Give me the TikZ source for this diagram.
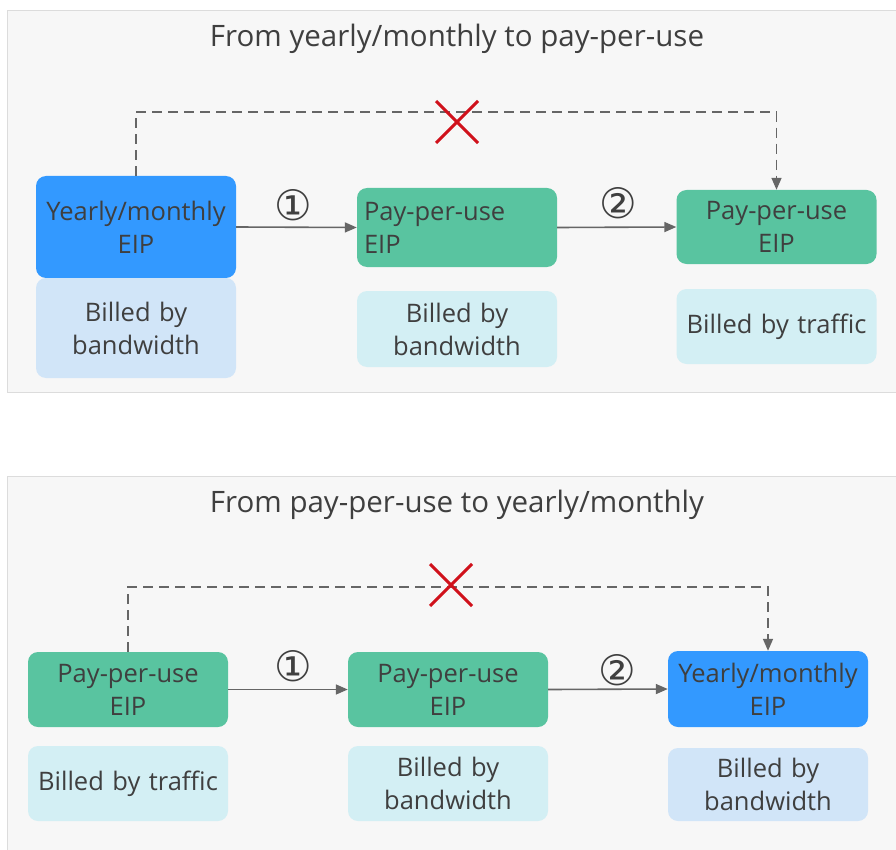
\documentclass[tikz,border=0pt]{standalone}
\usepackage{fontspec}
\setmainfont{Open Sans}
\newfontfamily\circfont{DejaVu Sans}
\usetikzlibrary{arrows.meta}
\definecolor{panelbg}{HTML}{F7F7F7}
\definecolor{panelrule}{HTML}{DCDCDC}
\definecolor{yearblue}{HTML}{3399FF}
\definecolor{payblue}{HTML}{59C4A0}
\definecolor{billblue}{HTML}{D1E5F8}
\definecolor{billcyan}{HTML}{D3EFF4}
\definecolor{inkgray}{HTML}{3F3F3F}
\definecolor{linegray}{HTML}{666666}
\definecolor{crossred}{HTML}{D0111B}
\tikzset{
  panel/.style={fill=panelbg, draw=panelrule, line width=1pt},
  box/.style={rectangle, rounded corners=10pt, minimum width=200pt, text width=186pt,
    inner sep=7pt, align=center, text=inkgray, font=\fontsize{25.5}{33}\selectfont},
  yearbox/.style={box, fill=yearblue},
  paybox/.style={box, fill=payblue},
  billbw/.style={box, fill=billblue},
  billtr/.style={box, fill=billcyan},
  title/.style={text=inkgray, font=\fontsize{29.5}{34}\selectfont},
  steplabel/.style={text=inkgray, font=\circfont\fontsize{42}{44}\selectfont},
  flow/.style={draw=linegray, line width=1.6pt, -{Triangle[length=12pt,width=10pt]}},
  skip/.style={draw=linegray, line width=1.6pt, dash pattern=on 10pt off 6pt,
    -{Triangle[length=12pt,width=10pt]}},
  cross/.style={draw=crossred, line width=3pt}
}
\begin{document}
\begin{tikzpicture}[x=1pt, y=-1pt]
\useasboundingbox (0,0) rectangle (896,850);

% ---- upper panel: yearly/monthly -> pay-per-use
\draw[panel] (7,11) rectangle (900,392);
\node[title] (t1) at (457,39) {From yearly/monthly to pay-per-use};
\node[yearbox, minimum height=102pt] (a1) at (136,227) {Yearly/monthly\\EIP};
\node[billbw, minimum height=100pt] (a1b) at (136,328) {Billed by\\bandwidth};
\node[paybox, minimum height=79pt, align=left] (b1) at (457,227.5) {Pay-per-use\\EIP};
\node[billtr, minimum height=76pt] (b1b) at (457,329) {Billed by\\bandwidth};
\node[paybox, minimum height=74pt] (c1) at (776.5,227) {Pay-per-use\\EIP};
\node[billtr, minimum height=75pt] (c1b) at (776.5,326.5) {Billed by traffic};
\draw[flow] (a1.east) -- (b1.west);
\draw[flow] (b1.east) -- (c1.west);
\node[steplabel] (s11) at (293,205) {①};
\node[steplabel] (s12) at (618,203) {②};
\coordinate (j1) at (457,112);
\draw[skip] (a1.north) |- (j1) -| (c1.north);
\draw[cross] (436,101) -- (478,143) (436,143) -- (478,101);

% ---- lower panel: pay-per-use -> yearly/monthly
\draw[panel] (7,476) rectangle (900,860);
\node[title] (t2) at (457,505) {From pay-per-use to yearly/monthly};
\node[paybox, minimum height=75pt] (a2) at (128,689.5) {Pay-per-use\\EIP};
\node[billtr, minimum height=75pt] (a2b) at (128,783.5) {Billed by traffic};
\node[paybox, minimum height=75pt] (b2) at (448,689.5) {Pay-per-use\\EIP};
\node[billtr, minimum height=75pt] (b2b) at (448,783.5) {Billed by\\bandwidth};
\node[yearbox, minimum height=76pt] (c2) at (768,689) {Yearly/monthly\\EIP};
\node[billbw, minimum height=73pt] (c2b) at (768,784.5) {Billed by\\bandwidth};
\draw[flow] (a2.east) -- (b2.west);
\draw[flow] (b2.east) -- (c2.west);
\node[steplabel] (s21) at (293,666) {①};
\node[steplabel] (s22) at (617,670) {②};
\coordinate (j2) at (451,587);
\draw[skip] (a2.north) |- (j2) -| (c2.north);
\draw[cross] (430,564) -- (472,606) (430,606) -- (472,564);
\end{tikzpicture}
\end{document}
